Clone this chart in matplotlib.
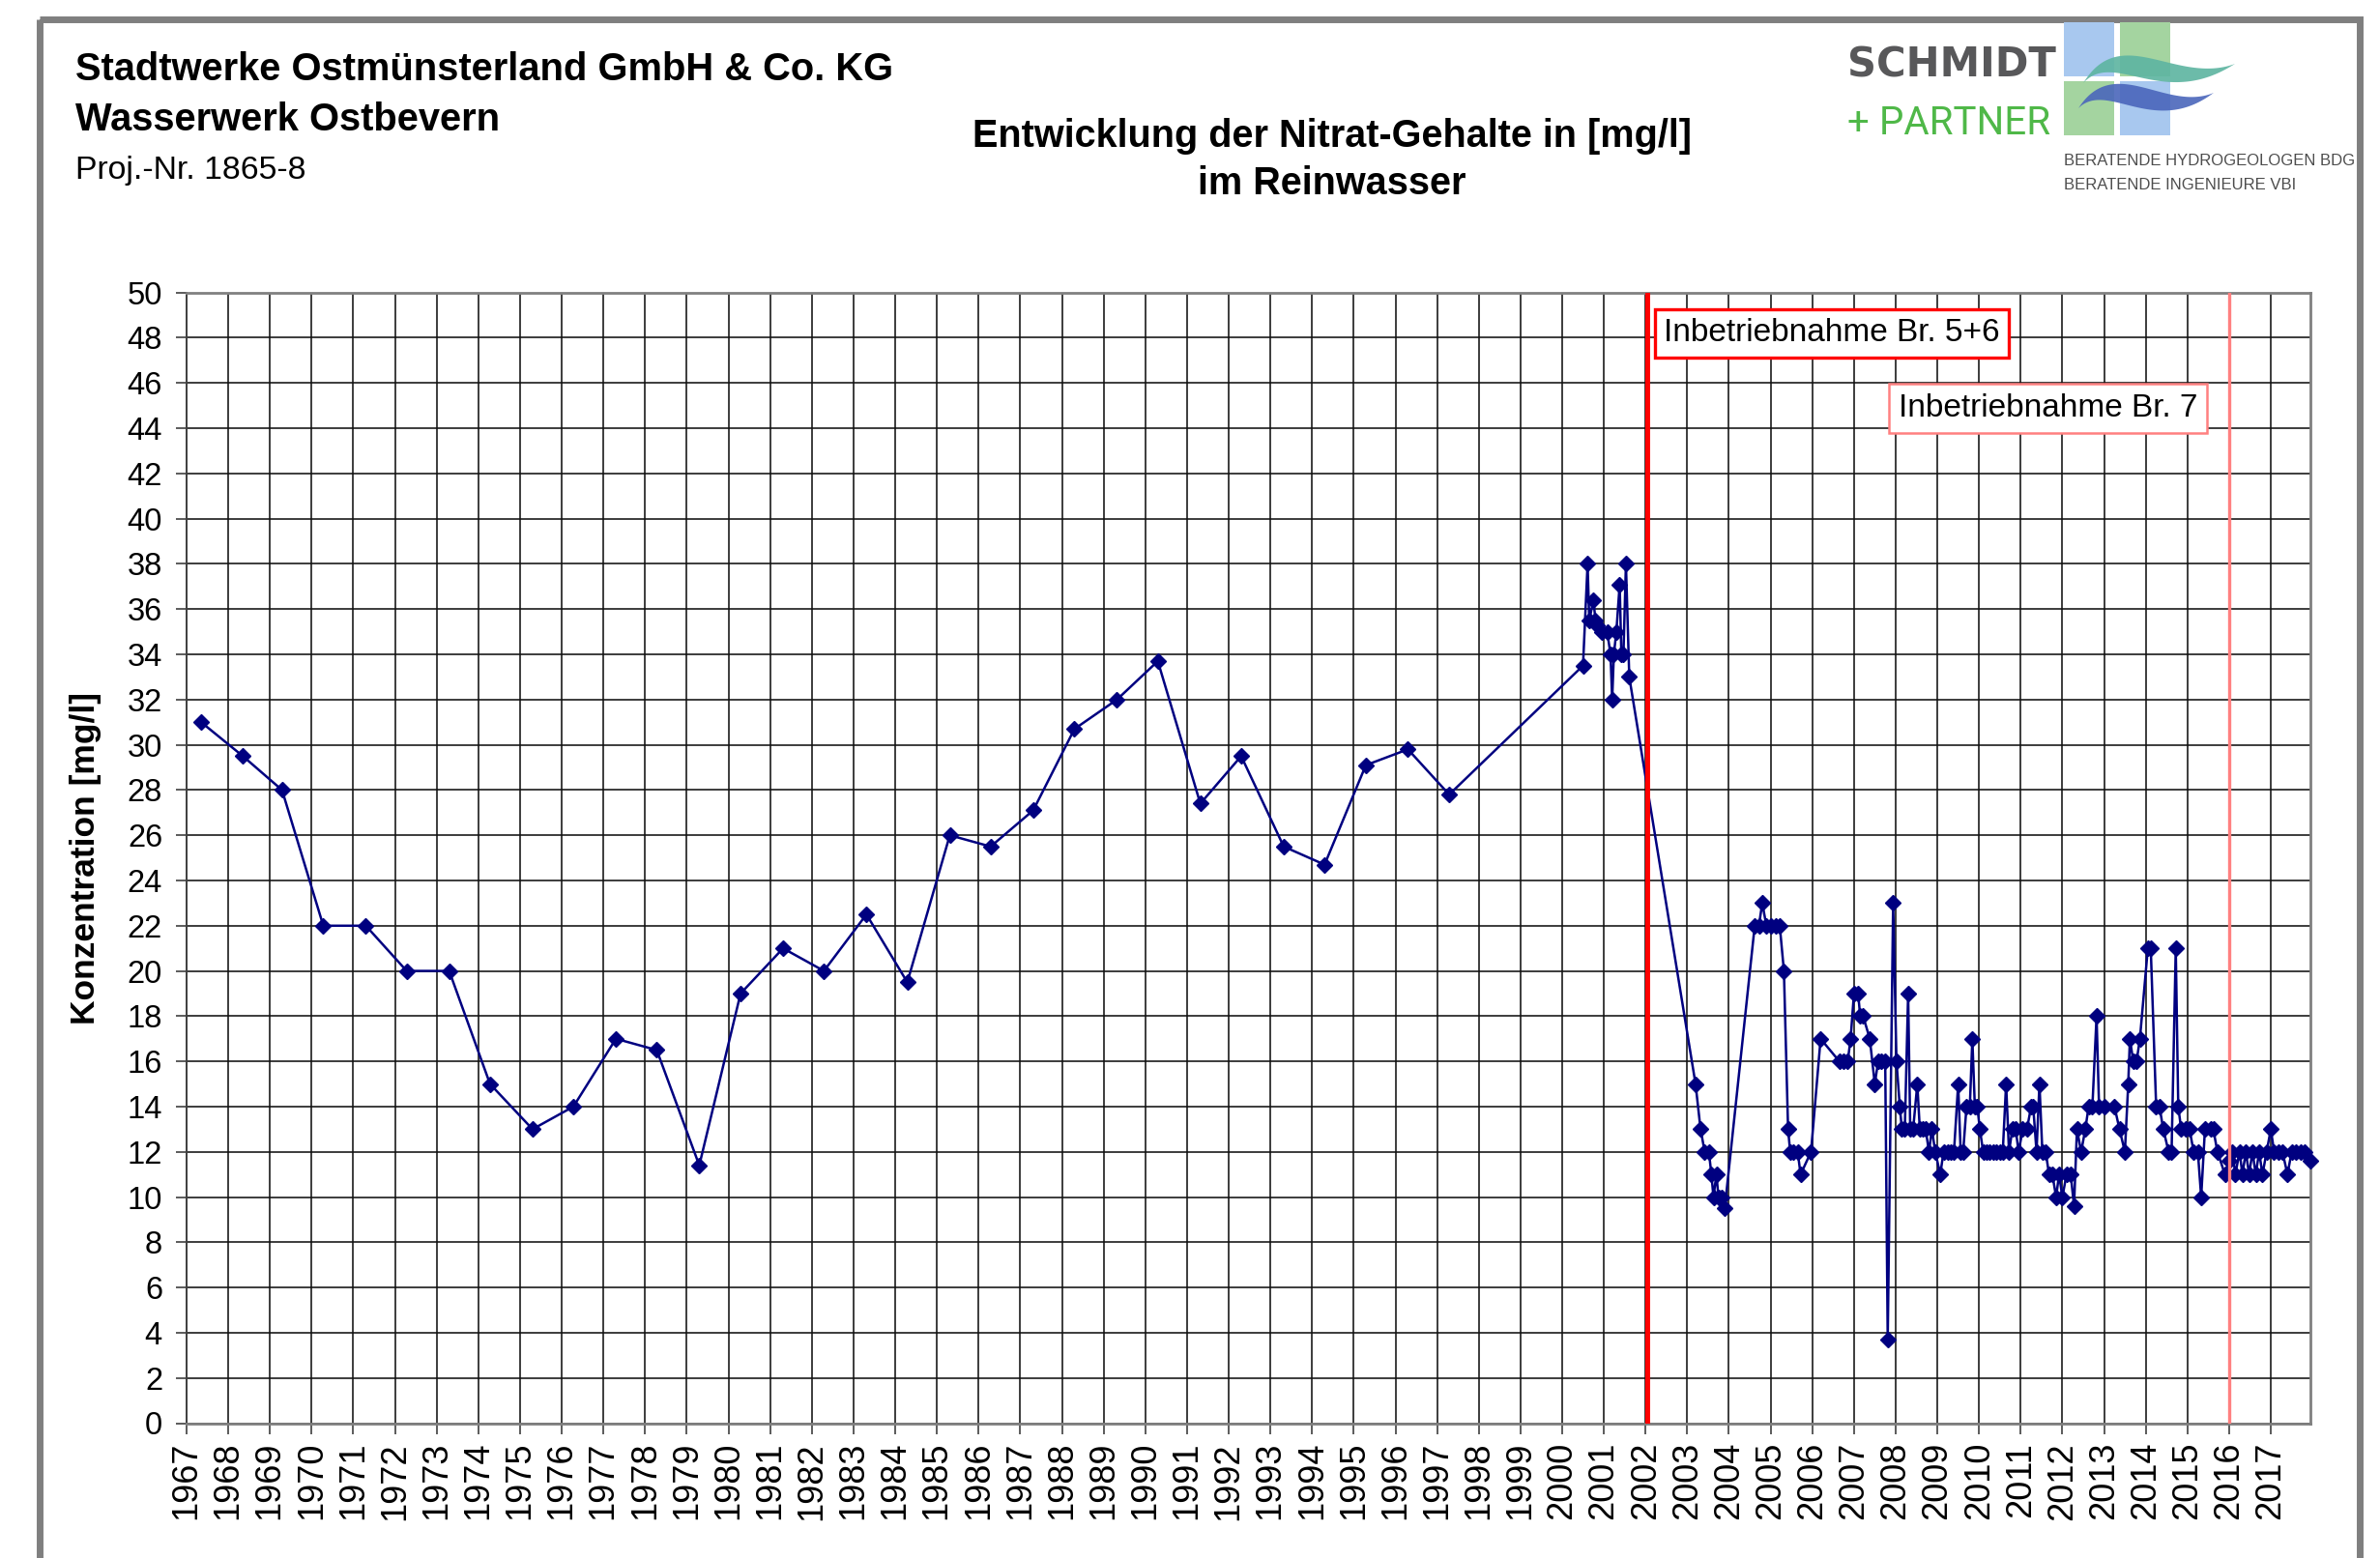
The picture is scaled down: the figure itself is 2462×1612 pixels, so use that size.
import numpy as np
import matplotlib
matplotlib.use('Agg')
import matplotlib.pyplot as plt
from matplotlib.transforms import Affine2D
from matplotlib.patches import Rectangle, Polygon

plt.rcParams['font.family'] = ['Liberation Sans', 'DejaVu Sans']

# ---------------- data ----------------
years_early = [1967.35, 1968.35, 1969.29, 1970.28, 1971.30, 1972.28, 1973.30, 1974.28,
               1975.30, 1976.28, 1977.30, 1978.28, 1979.30, 1980.29, 1981.31, 1982.29,
               1983.31, 1984.29, 1985.31, 1986.29, 1987.31, 1988.30, 1989.32, 1990.30,
               1991.32, 1992.30, 1993.32, 1994.30, 1995.29, 1996.30, 1997.29]
nitrate_early = [31.0, 29.5, 28.0, 22.0, 22.0, 20.0, 20.0, 15.0,
                 13.0, 14.0, 17.0, 16.5, 11.4, 19.0, 21.0, 20.0,
                 22.5, 19.5, 26.0, 25.5, 27.1, 30.7, 32.0, 33.7,
                 27.4, 29.5, 25.5, 24.7, 29.1, 29.8, 27.8]

years_2000 = [2000.50, 2000.61, 2000.65, 2000.75, 2000.80, 2000.84, 2000.95, 2001.08,
              2001.16, 2001.20, 2001.24, 2001.30, 2001.38, 2001.42, 2001.47, 2001.53, 2001.61]
nitrate_2000 = [33.5, 38.0, 35.5, 36.4, 35.5, 35.3, 35.0, 35.0,
                34.0, 32.0, 34.0, 35.0, 37.1, 34.0, 34.0, 38.0, 33.0]

years_late = [2003.20, 2003.32, 2003.42, 2003.52, 2003.58, 2003.63, 2003.70, 2003.75, 2003.82, 2003.90,
              2004.62, 2004.72, 2004.80, 2004.90, 2005.00, 2005.12, 2005.22, 2005.32, 2005.42, 2005.47,
              2005.55, 2005.65, 2005.72, 2005.97, 2006.20, 2006.65, 2006.75, 2006.85, 2006.92, 2007.00,
              2007.10, 2007.15, 2007.22, 2007.38, 2007.50, 2007.58, 2007.66, 2007.75, 2007.81, 2007.94,
              2008.02, 2008.10, 2008.15, 2008.22, 2008.30, 2008.35, 2008.42, 2008.52, 2008.58, 2008.66,
              2008.72, 2008.80, 2008.87, 2008.95, 2009.07, 2009.15, 2009.25, 2009.32, 2009.40, 2009.50,
              2009.56, 2009.62, 2009.70, 2009.78, 2009.84, 2009.90, 2009.96, 2010.02, 2010.10, 2010.18,
              2010.26, 2010.34, 2010.42, 2010.50, 2010.57, 2010.65, 2010.72, 2010.80, 2010.88, 2010.95,
              2011.05, 2011.15, 2011.25, 2011.30, 2011.38, 2011.45, 2011.52, 2011.60, 2011.68, 2011.76,
              2011.85, 2011.92, 2012.00, 2012.10, 2012.20, 2012.28, 2012.35, 2012.45, 2012.55, 2012.63,
              2012.72, 2012.82, 2012.88, 2013.00, 2013.25, 2013.37, 2013.50, 2013.58, 2013.62, 2013.70,
              2013.78, 2013.86, 2014.05, 2014.12, 2014.25, 2014.33, 2014.42, 2014.55, 2014.62, 2014.72,
              2014.78, 2014.85, 2014.95, 2015.05, 2015.15, 2015.25, 2015.33, 2015.42, 2015.55, 2015.62,
              2015.72, 2015.90, 2016.00, 2016.08, 2016.15, 2016.25, 2016.32, 2016.40, 2016.48, 2016.56,
              2016.64, 2016.72, 2016.80, 2016.90, 2017.00, 2017.08, 2017.18, 2017.28, 2017.40, 2017.50,
              2017.60, 2017.72, 2017.82, 2017.95]
nitrate_late = [15.0, 13.0, 12.0, 12.0, 11.0, 10.0, 11.0, 10.0, 10.0, 9.5,
                22.0, 22.0, 23.0, 22.0, 22.0, 22.0, 22.0, 20.0, 13.0, 12.0,
                12.0, 12.0, 11.0, 12.0, 17.0, 16.0, 16.0, 16.0, 17.0, 19.0,
                19.0, 18.0, 18.0, 17.0, 15.0, 16.0, 16.0, 16.0, 3.7, 23.0,
                16.0, 14.0, 13.0, 13.0, 19.0, 13.0, 13.0, 15.0, 13.0, 13.0,
                13.0, 12.0, 13.0, 12.0, 11.0, 12.0, 12.0, 12.0, 12.0, 15.0,
                12.0, 12.0, 14.0, 14.0, 17.0, 14.0, 14.0, 13.0, 12.0, 12.0,
                12.0, 12.0, 12.0, 12.0, 12.0, 15.0, 12.0, 13.0, 13.0, 12.0,
                13.0, 13.0, 14.0, 14.0, 12.0, 15.0, 12.0, 12.0, 11.0, 11.0,
                10.0, 11.0, 10.0, 11.0, 11.0, 9.6, 13.0, 12.0, 13.0, 14.0,
                14.0, 18.0, 14.0, 14.0, 14.0, 13.0, 12.0, 15.0, 17.0, 16.0,
                16.0, 17.0, 21.0, 21.0, 14.0, 14.0, 13.0, 12.0, 12.0, 21.0,
                14.0, 13.0, 13.0, 13.0, 12.0, 12.0, 10.0, 13.0, 13.0, 13.0,
                12.0, 11.0, 11.6, 12.0, 11.0, 12.0, 11.0, 12.0, 11.0, 12.0,
                11.0, 12.0, 11.0, 12.0, 13.0, 12.0, 12.0, 12.0, 11.0, 12.0,
                12.0, 12.0, 12.0, 11.6]

years = years_early + years_2000 + years_late
nitrate = nitrate_early + nitrate_2000 + nitrate_late

year_ticks = list(range(1967, 2018))
conc_ticks = list(range(0, 51, 2))
event_years = [2002.04, 2016.0]
event_colors = ['#ff0000', '#ff8080']
event_labels = ['Inbetriebnahme Br. 5+6', 'Inbetriebnahme Br. 7']

header_lines = ['Stadtwerke Ostmünsterland GmbH & Co. KG', 'Wasserwerk Ostbevern', 'Proj.-Nr. 1865-8']
title_lines = ['Entwicklung der Nitrat-Gehalte in [mg/l]', 'im Reinwasser']
ylabel = 'Konzentration [mg/l]'

# ---------------- figure ----------------
W, H = 2462, 1612
fig = plt.figure(figsize=(W / 100, H / 100), dpi=100, facecolor='white')
T = Affine2D().scale(1.0 / W, -1.0 / H).translate(0, 1) + fig.transFigure  # image-pixel coords

ax = fig.add_axes([193 / W, 1 - 1472.5 / H, (2390 - 193) / W, (1472.5 - 302.7) / H])
ax.set_xlim(1967, 2017.95)
ax.set_ylim(0, 50)
ax.set_xticks(year_ticks)
ax.set_xticklabels([str(y) for y in year_ticks], rotation=90, fontsize=26)
ax.set_yticks(conc_ticks)
ax.set_yticklabels([str(v) for v in conc_ticks], fontsize=23.5)
ax.tick_params(axis='both', direction='out', length=8, width=1.2, color='#404040')
ax.tick_params(axis='y', pad=10)
ax.tick_params(axis='x', pad=6)
ax.grid(True, color='#111111', lw=1.15, zorder=0)
ax.set_axisbelow(True)
for s in ['top', 'right', 'bottom']:
    ax.spines[s].set_color('#808080')
    ax.spines[s].set_linewidth(2.0)
ax.spines['left'].set_color('#404040')
ax.spines['left'].set_linewidth(1.4)

ax.plot(years, nitrate, color='#000080', lw=1.8, marker='D', ms=8.5,
        mfc='#000080', mec='#000080', zorder=3, clip_on=False)

ax.axvline(event_years[0], color=event_colors[0], lw=3.6, zorder=4)
ax.axvline(event_years[1], color=event_colors[1], lw=2.4, zorder=4)

ax.text(2002.44, 48.2, event_labels[0], fontsize=24, ha='left', va='center', zorder=6,
        bbox=dict(boxstyle='square,pad=0.28', fc='white', ec=event_colors[0], lw=2.4))
ax.text(2008.07, 44.9, event_labels[1], fontsize=24, ha='left', va='center', zorder=6,
        bbox=dict(boxstyle='square,pad=0.3', fc='white', ec=event_colors[1], lw=1.8))

ax.set_ylabel(ylabel, fontsize=25.5, fontweight='bold')
ax.yaxis.set_label_coords(-0.040, 0.5)

# ---------------- header ----------------
fig.text(78, 83, header_lines[0], transform=T, fontsize=28.7, fontweight='bold', va='baseline')
fig.text(78, 135, header_lines[1], transform=T, fontsize=28.7, fontweight='bold', va='baseline')
fig.text(78, 185, header_lines[2], transform=T, fontsize=24.3, va='baseline')

fig.text(1378, 152, title_lines[0], transform=T, fontsize=28.5, fontweight='bold',
         ha='center', va='baseline')
fig.text(1378, 201, title_lines[1], transform=T, fontsize=28.5, fontweight='bold',
         ha='center', va='baseline')

# outer frame
fig.patches.append(Rectangle((40.5, 20), 2441 - 40.5, 1700, transform=T, fill=False,
                             ec='#7f7f7f', lw=5, clip_on=False))

# logo
fig.text(1911, 80, 'SCHMIDT', transform=T, fontsize=30, fontweight='bold',
         family='DejaVu Sans', color='#58585a', va='baseline')
fig.text(1911, 139, '+ PARTNER', transform=T, fontsize=29, family='Roboto',
         color='#4fb848', va='baseline')
sq_blue, sq_green = '#a8c8ef', '#a4d4a0'
for (x0, y0, c) in [(2135, 23, sq_blue), (2193, 23, sq_green), (2135, 84, sq_green), (2193, 84, sq_blue)]:
    fig.patches.append(Rectangle((x0, y0), 52, 56, transform=T, fc=c, ec='none'))


def wave(p0, p1, p2, p3, wmax, n=80):
    t = np.linspace(0, 1, n)[:, None]
    p0, p1, p2, p3 = map(np.array, (p0, p1, p2, p3))
    c = (1 - t) ** 3 * p0 + 3 * (1 - t) ** 2 * t * p1 + 3 * (1 - t) * t ** 2 * p2 + t ** 3 * p3
    w = wmax * np.sin(np.pi * t[:, 0]) ** 1.1
    upper = np.column_stack([c[:, 0], c[:, 1] - w / 2])
    lower = np.column_stack([c[:, 0], c[:, 1] + w / 2])[::-1]
    return np.vstack([upper, lower])


fig.patches.append(Polygon(wave((2155, 86), (2190, 38), (2245, 100), (2312, 66), 22),
                           transform=T, fc='#5fb5a2', ec='none', alpha=0.92))
fig.patches.append(Polygon(wave((2150, 112), (2183, 70), (2235, 128), (2290, 96), 22),
                           transform=T, fc='#4a66bb', ec='none', alpha=0.9))
fig.text(2135, 171, 'BERATENDE HYDROGEOLOGEN BDG', transform=T, fontsize=12,
         color='#4d4d4d', va='baseline')
fig.text(2135, 196, 'BERATENDE INGENIEURE VBI', transform=T, fontsize=12,
         color='#4d4d4d', va='baseline')

fig.savefig('out.png', dpi=100, facecolor='white')
